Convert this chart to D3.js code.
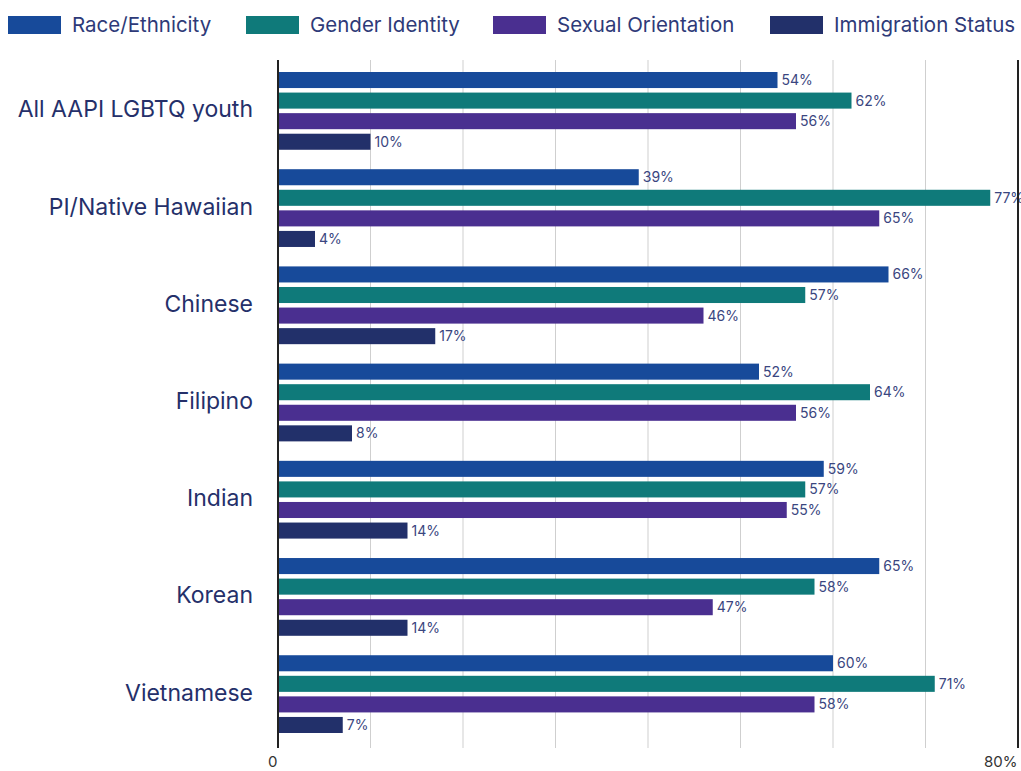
<!DOCTYPE html>
<html><head><meta charset="utf-8">
<script src="https://cdn.jsdelivr.net/npm/d3@7"></script>
<style>body{margin:0;background:#fff;} svg{display:block;font-family:Inter, "Noto Sans", sans-serif;}</style>
</head><body>
<svg id="c" width="1021" height="771"></svg>
<script>
const categories = ["All AAPI LGBTQ youth","PI/Native Hawaiian","Chinese","Filipino","Indian","Korean","Vietnamese"];
const seriesNames = ["Race/Ethnicity","Gender Identity","Sexual Orientation","Immigration Status"];
const raceEthnicity = [54,39,66,52,59,65,60];
const genderIdentity = [62,77,57,64,57,58,71];
const sexualOrientation = [56,65,46,56,55,47,58];
const immigrationStatus = [10,4,17,8,14,14,7];
const tickValues = [0,10,20,30,40,50,60,70,80];
const tickLabels = ["0","","","","","","","","80%"];
const colors = ["#174A9A","#0F7A7A","#4A2F90","#22306A"];

const seriesValues = [raceEthnicity, genderIdentity, sexualOrientation, immigrationStatus];
const svg = d3.select("#c");
const x = d3.scaleLinear().domain([0,80]).range([278,1018]);
const y = d3.scaleBand().domain(categories).range([72,733]).paddingInner(0.2).paddingOuter(0);
const yi = d3.scaleBand().domain(seriesNames).range([0,y.bandwidth()]).paddingInner(0.22).paddingOuter(0);
const textColor = "#25306A";

// gridlines
svg.append("g").selectAll("line").data(tickValues.slice(1,-1)).join("line")
  .attr("x1",d=>x(d)).attr("x2",d=>x(d)).attr("y1",60).attr("y2",748)
  .attr("stroke","#cfcfcf").attr("stroke-width",1);

// bars
const g = svg.append("g").selectAll("g").data(categories).join("g")
  .attr("transform",d=>`translate(0,${y(d)})`);
seriesNames.forEach((s,si)=>{
  g.append("rect")
    .attr("x",x(0)).attr("y",yi(s))
    .attr("width",(d,i)=>x(seriesValues[si][i])-x(0))
    .attr("height",yi.bandwidth())
    .attr("fill",colors[si]);
  g.append("text")
    .attr("x",(d,i)=>x(seriesValues[si][i])+4)
    .attr("y",yi(s)+yi.bandwidth()/2)
    .attr("dy","0.36em")
    .attr("font-size",14).attr("fill","#3A4680")
    .text((d,i)=>seriesValues[si][i]+"%");
});

// category labels
svg.append("g").selectAll("text").data(categories).join("text")
  .attr("x",253).attr("y",d=>y(d)+y.bandwidth()/2)
  .attr("dy","0.28em").attr("text-anchor","end")
  .attr("font-size",23).attr("fill",textColor).text(d=>d);

// axes lines
svg.append("line").attr("x1",x(0)).attr("x2",x(0)).attr("y1",60).attr("y2",748).attr("stroke","#222").attr("stroke-width",2);
svg.append("line").attr("x1",x(80)).attr("x2",x(80)).attr("y1",60).attr("y2",748).attr("stroke","#222").attr("stroke-width",2);

// bottom tick labels
const xAxis = d3.axisBottom(x).tickValues(tickValues).tickFormat((d,i)=>tickLabels[i]).tickSize(0).tickPadding(0);
const ax = svg.append("g").attr("transform","translate(0,756)").call(xAxis);
ax.select(".domain").remove();
ax.selectAll("text").attr("font-size",15).attr("fill","#333").attr("text-anchor","end").attr("dx","-1").attr("font-family","Inter, sans-serif");

// legend
const legX = [8,246,493,770];
const leg = svg.append("g").selectAll("g").data(seriesNames).join("g")
  .attr("transform",(d,i)=>`translate(${legX[i]},16)`);
leg.append("rect").attr("width",53).attr("height",18).attr("fill",(d,i)=>colors[i]);
leg.append("text").attr("x",64).attr("y",9).attr("dy","0.36em").attr("font-size",20.5).attr("fill","#2E3A78").text(d=>d);
</script>
</body></html>
